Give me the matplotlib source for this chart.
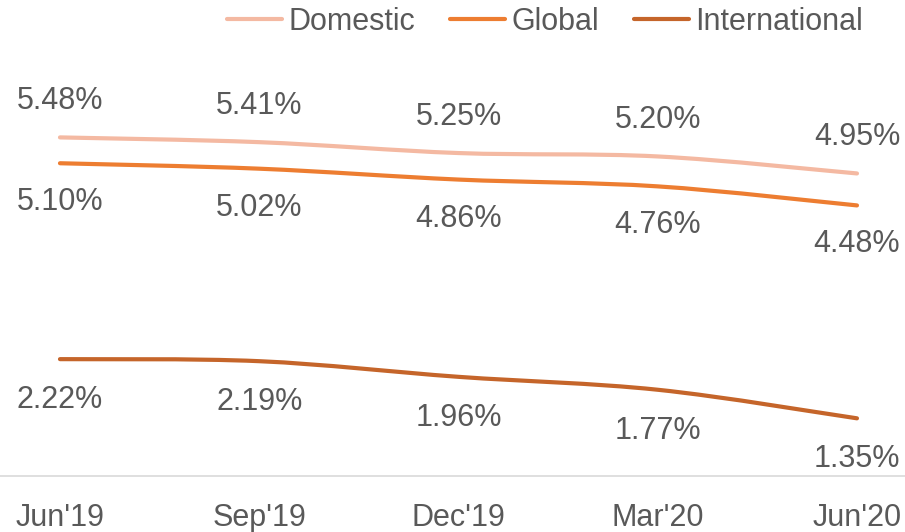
import matplotlib
matplotlib.use("Agg")
import matplotlib.pyplot as plt
from matplotlib.path import Path
from matplotlib.patches import PathPatch
from matplotlib.lines import Line2D
import numpy as np

plt.rcParams['font.family'] = ['Liberation Sans', 'DejaVu Sans']

categories = ["Jun'19", "Sep'19", "Dec'19", "Mar'20", "Jun'20"]
domestic = [5.48, 5.41, 5.25, 5.20, 4.95]
global_ = [5.10, 5.02, 4.86, 4.76, 4.48]
international = [2.22, 2.19, 1.96, 1.77, 1.35]

series = [
    ("Domestic", domestic, "#F4B9A2", 36),
    ("Global", global_, "#ED7D31", -39),
    ("International", international, "#C5652A", -41),
]

TEXT = "#595959"

fig = plt.figure(figsize=(9.05, 5.32), dpi=100)
ax = fig.add_axes([0, 0.105, 1, 0.895])
ax.set_xlim(-0.301, 4.241)
ax.set_ylim(0.5, 7.5)


def smooth_path(xs, ys, t=1/6):
    xs = np.asarray(xs, float)
    ys = np.asarray(ys, float)
    n = len(xs)
    verts = [(xs[0], ys[0])]
    codes = [Path.MOVETO]
    for i in range(n - 1):
        p0 = (xs[max(i - 1, 0)], ys[max(i - 1, 0)])
        p1 = (xs[i], ys[i])
        p2 = (xs[i + 1], ys[i + 1])
        p3 = (xs[min(i + 2, n - 1)], ys[min(i + 2, n - 1)])
        c1 = (p1[0] + (p2[0] - p0[0]) * t, p1[1] + (p2[1] - p0[1]) * t)
        c2 = (p2[0] - (p3[0] - p1[0]) * t, p2[1] - (p3[1] - p1[1]) * t)
        verts += [c1, c2, p2]
        codes += [Path.CURVE4] * 3
    return Path(verts, codes)


x = np.arange(len(categories))
handles = []
for name, vals, color, off in series:
    patch = PathPatch(smooth_path(x, vals), facecolor='none', edgecolor=color,
                      linewidth=3, capstyle='round', joinstyle='round')
    ax.add_patch(patch)
    for xi, v in zip(x, vals):
        ax.annotate(f"{v:.2f}%", (xi, v), xytext=(0, off), textcoords='offset pixels',
                    ha='center', va='center', fontsize=22, color=TEXT)
    handles.append(Line2D([], [], color=color, linewidth=3, solid_capstyle='round', label=name))

for s in ['top', 'left', 'right']:
    ax.spines[s].set_visible(False)
ax.spines['bottom'].set_color('#D9D9D9')
ax.spines['bottom'].set_linewidth(1.2)
ax.set_yticks([])
ax.set_xticks(x)
ax.set_xticklabels(categories, fontsize=22, color=TEXT)
ax.tick_params(axis='x', length=0, pad=19)

fig.legend(handles=handles, loc='center', bbox_to_anchor=(545 / 905, 1 - 22 / 532),
           ncol=3, frameon=False, fontsize=22, labelcolor=TEXT,
           handlelength=1.8, handletextpad=0.2, columnspacing=1.15,
           borderaxespad=0, borderpad=0)

fig.savefig("out.png", dpi=100)
